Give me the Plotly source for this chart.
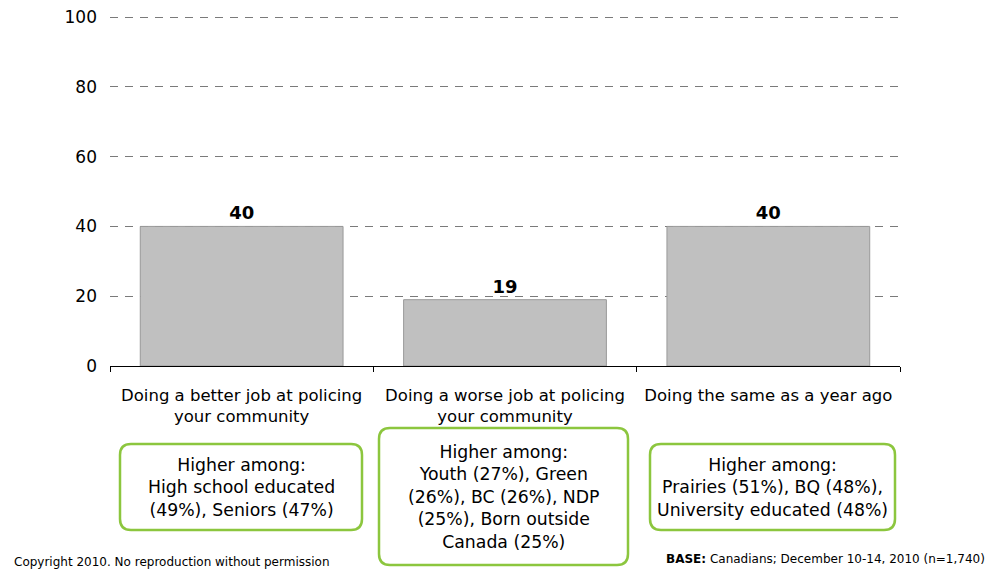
import plotly.graph_objects as go

categories = [
    "Doing a better job at policing<br>your community",
    "Doing a worse job at policing<br>your community",
    "Doing the same as a year ago",
]
values = [40, 19, 40]
y_ticks = [0, 20, 40, 60, 80, 100]

notes = [
    "Higher among:<br>High school educated<br>(49%), Seniors (47%)",
    "Higher among:<br>Youth (27%), Green<br>(26%), BC (26%), NDP<br>(25%), Born outside<br>Canada (25%)",
    "Higher among:<br>Prairies (51%), BQ (48%),<br>University educated (48%)",
]

FONT = "DejaVu Sans"
W, H = 989, 570
L, R, T, B = 110, 900, 16, 366  # plot area in pixels


def px_x(x):
    return (x - L) / (R - L)


def px_y(y):
    return (B - y) / (B - T)


def rounded_box(x0, y0, x1, y1, r=11):
    rx = r / (R - L)
    ry = r / (B - T)
    a, b = px_x(x0), px_x(x1)
    top, bot = px_y(y0), px_y(y1)
    return (
        f"M {a + rx},{top} L {b - rx},{top} Q {b},{top} {b},{top - ry} "
        f"L {b},{bot + ry} Q {b},{bot} {b - rx},{bot} "
        f"L {a + rx},{bot} Q {a},{bot} {a},{bot + ry} "
        f"L {a},{top - ry} Q {a},{top} {a + rx},{top} Z"
    )


fig = go.Figure()

fig.add_trace(
    go.Bar(
        x=categories,
        y=values,
        width=0.77,
        marker=dict(color="#c0c0c0", line=dict(color="#999999", width=1)),
        text=values,
        texttemplate="<b>%{text}</b>",
        textposition="outside",
        textfont=dict(size=18, color="#000000", family=FONT),
        cliponaxis=False,
        showlegend=False,
    )
)

boxes = [
    (120, 444, 362, 530),
    (379, 428, 628, 565),
    (650, 444, 895, 530),
]

shapes = []
annotations = []
for (x0, y0, x1, y1), note in zip(boxes, notes):
    shapes.append(
        dict(
            type="path",
            xref="paper",
            yref="paper",
            path=rounded_box(x0, y0, x1, y1),
            line=dict(color="#8cc63e", width=2.5),
            fillcolor="white",
        )
    )
    annotations.append(
        dict(
            text=note,
            xref="paper",
            yref="paper",
            x=px_x((x0 + x1) / 2),
            y=px_y((y0 + y1) / 2),
            xanchor="center",
            yanchor="middle",
            showarrow=False,
            align="center",
            font=dict(size=17.3, color="#000000", family=FONT),
        )
    )

annotations.append(
    dict(
        text="Copyright 2010. No reproduction without permission",
        xref="paper",
        yref="paper",
        x=px_x(12),
        y=px_y(562),
        xanchor="left",
        yanchor="middle",
        showarrow=False,
        font=dict(size=12, color="#000000", family=FONT),
    )
)
annotations.append(
    dict(
        text="<b>BASE:</b> Canadians; December 10-14, 2010 (n=1,740)",
        xref="paper",
        yref="paper",
        x=px_x(987),
        y=px_y(559),
        xanchor="right",
        yanchor="middle",
        showarrow=False,
        font=dict(size=12, color="#000000", family=FONT),
    )
)

fig.update_layout(
    width=W,
    height=H,
    autosize=False,
    plot_bgcolor="white",
    paper_bgcolor="white",
    margin=dict(l=L, r=W - R, t=T, b=H - B),
    font=dict(family=FONT, size=16, color="#000000"),
    shapes=shapes,
    annotations=annotations,
)

fig.update_xaxes(
    automargin=False,
    showline=True,
    linecolor="#000000",
    linewidth=1,
    ticks="outside",
    tickson="boundaries",
    ticklen=5,
    tickcolor="#000000",
    showgrid=False,
    ticklabelstandoff=14,
    tickfont=dict(size=16.5, family=FONT, color="#000000"),
)

fig.update_yaxes(
    automargin=False,
    range=[0, 100.3],
    tickvals=y_ticks,
    showgrid=True,
    gridcolor="#7a7a7a",
    griddash="8px,7px",
    gridwidth=1.2,
    zeroline=False,
    showline=False,
    ticks="",
    ticklabelstandoff=12,
    tickfont=dict(size=17, family=FONT, color="#000000"),
)

# the page body has a default 8px margin; drop it so the figure fills the window
fig.write_html(
    "out.html",
    config={"displayModeBar": False},
    post_script="document.body.style.margin = '0';",
)
